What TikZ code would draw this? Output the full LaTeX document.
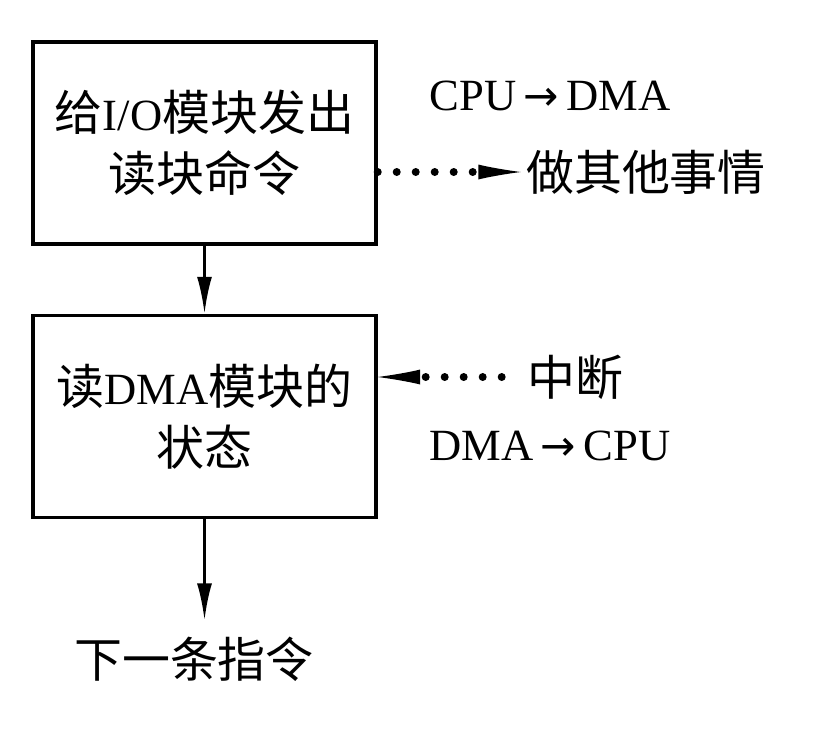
\documentclass[tikz,border=0pt]{standalone}
\usepackage{fontspec}
\setmainfont{Liberation Serif}[Scale=0.93]
\newfontfamily\cjk{Noto Sans CJK SC}
\newfontfamily\sym{DejaVu Sans}
\usetikzlibrary{arrows.meta}

\newcommand{\toarrow}{\,{\sym\fontsize{24}{24}\selectfont →}\,}

\begin{document}
\begin{tikzpicture}[
  x=0.02cm, y=-0.02cm,
  font=\fontsize{27.3}{35}\selectfont,
  >={Latex[length=0.74cm,width=0.3cm]},
  block/.style={draw,line width=2pt,minimum width=6.86cm,minimum height=4.04cm,
                align=center,inner sep=0pt},
  flow/.style={->,line width=1.7pt},
  signal/.style={line width=0.16cm,line cap=round,
                 dash pattern=on 0pt off 0.38cm,
                 -{Latex[length=0.85cm,width=0.3cm,line width=0pt]}},
  note/.style={inner sep=0pt}
]
\useasboundingbox (0,0) rectangle (818,754);
% the two steps on the CPU side
\node[block] (issue) at (204.5,143)
  {{\cjk 给}I/O{\cjk 模块发出}\\{\cjk 读块命令}};
\node[block] (status) at (204.5,416.5)
  {{\cjk 读}DMA{\cjk 模块的}\\{\cjk 状态}};
\node[note] (next) at (194,659) {\cjk 下一条指令};

% what happens meanwhile
\node[note] (cpudma) at (550,96) {CPU\toarrow DMA};
\node[note] (other) at (646,172) {\cjk 做其他事情};
\node[note] (intr) at (575,377) {\cjk 中断};
\node[note] (dmacpu) at (550,446) {DMA\toarrow CPU};

\draw[flow] (issue) -- (status);
\draw[flow,shorten >=0.32cm] (status.south) -- (status.south |- next.north);
\draw[signal,shorten >=0.1cm] (issue.east |- other.west) -- (other.west);
\draw[signal,shorten <=0.5cm] (intr.west) -- (intr.west -| status.east);
\end{tikzpicture}
\end{document}
